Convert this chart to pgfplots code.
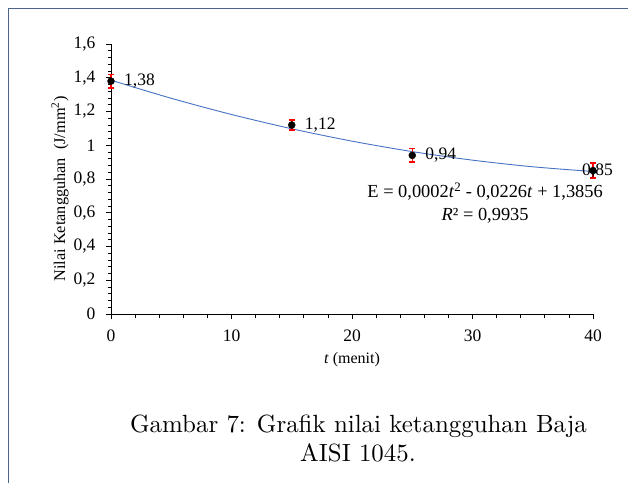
\documentclass[border=0pt]{standalone}
\usepackage{pgfplots}
\pgfplotsset{compat=1.18}
\usepackage{pgfplotstable}
\usepackage{fontspec}
\usepackage{graphicx}
\newfontfamily\tnr{Liberation Serif}
\definecolor{fitblue}{RGB}{68,114,196}
\definecolor{framecol}{RGB}{79,98,138}

% measured toughness with error
\pgfplotstableread{
t E err dx lbl
0 1.38 0.04 13 {1,38}
15 1.12 0.03 13 {1,12}
25 0.94 0.04 13 {0,94}
40 0.85 0.045 -11 {0,85}
}\meas

% polynomial trend line
\pgfplotstableread{
t E
0 1.3856
5 1.2783
10 1.1823
15 1.0977
20 1.0243
25 0.9624
30 0.9117
35 0.8724
40 0.8444
}\fit

\begin{document}
\begin{tikzpicture}[x=1pt,y=1pt]
\useasboundingbox (0,0) rectangle (628,483);
\draw[framecol, line width=1pt] (8.5,0) -- (8.5,474) -- (628,474);

\begin{axis}[
    at={(111pt,169pt)}, anchor=south west,
    scale only axis, width=482pt, height=270pt,
    xmin=0, xmax=40, ymin=0, ymax=1.6,
    xtick={0,10,20,30,40},
    ytick={0,0.2,0.4,0.6,0.8,1,1.2,1.4,1.6},
    minor x tick num=4, minor y tick num=4,
    axis x line*=bottom, axis y line*=left,
    axis line style={-, line width=0.9pt},
    tick align=outside,
    major tick length=5pt, minor tick length=3.5pt,
    every tick/.style={black, line width=0.8pt},
    ticklabel style={font=\tnr\fontsize{17.5}{17.5}\selectfont},
    yticklabel style={xshift=-7pt},
    xticklabel style={yshift=-7pt},
    /pgf/number format/.cd, use comma, assume math mode=true,
    /pgfplots/.cd,
    xlabel={\textit{t} (menit)},
    xlabel style={font=\tnr\fontsize{16}{16}\selectfont, at={(rel axis cs:0.5,-0.17)}, anchor=center},
    ylabel={Nilai Ketangguhan\ \ (J/mm\textsuperscript{2})},
    ylabel style={font=\tnr\fontsize{16.3}{16.3}\selectfont, at={(rel axis cs:-0.106,0.463)}, anchor=center},
    clip=false,
]
\addplot[fitblue, line width=0.9pt, smooth, mark=none] table[x=t, y=E] {\fit};
\addplot[only marks, mark=*, mark size=3.5pt, black,
    point meta=explicit symbolic,
    visualization depends on={\thisrow{dx} \as \dx},
    nodes near coords,
    nodes near coords style={anchor=west, inner sep=0pt, xshift=\dx pt, text=black,
        font=\tnr\fontsize{17.5}{17.5}\selectfont},
    error bars/.cd, y dir=both, y explicit,
    error bar style={red, line width=1.5pt},
    error mark options={red, rotate=90, mark size=3pt, line width=1.5pt},
] table[x=t, y=E, y error=err, meta=lbl] {\meas};
\node[font=\tnr\fontsize{18.4}{23}\selectfont, align=center] at (axis cs:31.05,0.658)
    {E = 0,0002\textit{t}\textsuperscript{2} - 0,0226\textit{t} + 1,3856\\\textit{R}² = 0,9935};
\end{axis}

\node[anchor=base] at (358.5,51) {\scalebox{2.49}{Gambar 7: Grafik nilai ketangguhan Baja}};
\node[anchor=base] at (358,22) {\scalebox{2.49}{AISI 1045.}};
\end{tikzpicture}
\end{document}
